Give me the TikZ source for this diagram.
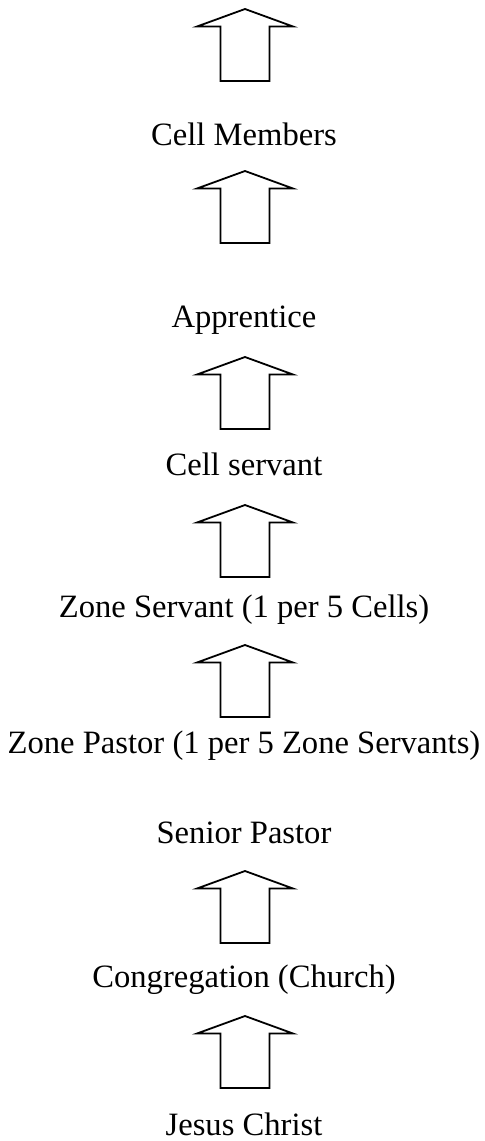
\documentclass[tikz,border=0pt]{standalone}
\usepackage{fontspec}
\setmainfont{Liberation Serif}
\tikzset{
  level/.style={anchor=base, inner sep=0pt, font=\fontsize{16.3}{19}\selectfont},
  uparrow/.style={line width=0.9pt, line join=miter, fill=white}
}
\begin{document}
\begin{tikzpicture}[x=0.5pt, y=-0.5pt]
   \useasboundingbox (0,0) rectangle (484,1141);
   % block arrows, given by the y of their bottom edge
   \foreach \b in {81,243,429,577,717,943,1088}
      \draw[uparrow, shift={(245,\b)}] (-24.5,0) -- (-24.5,-54.5) -- (-48,-54.5)
         -- (0,-72) -- (48,-54.5) -- (24.5,-54.5) -- (24.5,0) -- cycle;
   \node[level] (members) at (244,145) {Cell Members};
   \node[level] (apprentice) at (244,327) {Apprentice};
   \node[level] (cellservant) at (244,475) {Cell servant};
   \node[level] (zoneservant) at (244,617) {Zone Servant (1 per 5 Cells)};
   \node[level] (zonepastor) at (244,753) {Zone Pastor (1 per 5 Zone Servants)};
   \node[level] (senior) at (244,843) {Senior Pastor};
   \node[level] (church) at (244,987) {Congregation (Church)};
   \node[level] (jesus) at (244,1135) {Jesus Christ};
\end{tikzpicture}
\end{document}
